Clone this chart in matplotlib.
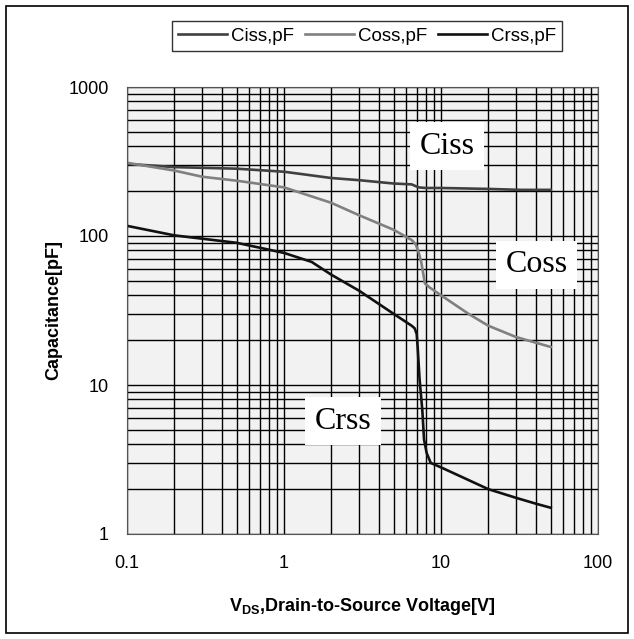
import matplotlib.pyplot as plt
from matplotlib.patches import Rectangle

# data
ciss_v = [0.1, 0.2, 0.5, 1, 2, 3, 5, 6.5, 7.2, 8, 10, 20, 32, 50]
ciss_c = [305, 290, 283, 270, 245, 237, 225, 222, 212, 210, 210, 207, 204, 204]

coss_v = [0.1, 0.2, 0.3, 0.5, 1, 2, 3, 5, 6.5, 6.9, 7.2, 7.5, 7.9, 8.5, 10, 15, 20, 30, 50]
coss_c = [310, 275, 250, 235, 212, 167, 138, 110, 94, 88, 78, 66, 48, 45, 40, 30, 25, 21, 18]

crss_v = [0.1, 0.2, 0.5, 1, 1.5, 2, 3, 5, 6.5, 6.8, 7.0, 7.1, 7.3, 7.6, 7.8, 8.1,
          8.6, 10, 15, 20, 30, 40, 50]
crss_c = [117, 101, 90, 77, 67, 55, 43, 30, 25, 24, 22, 18, 11, 6.8, 4.3, 3.5,
          3.0, 2.8, 2.3, 2.0, 1.75, 1.6, 1.5]

xticks = [0.1, 1, 10, 100]
xticklabels = ["0.1", "1", "10", "100"]
yticks = [1, 10, 100, 1000]
yticklabels = ["1", "10", "100", "1000"]

plt.rcParams['font.family'] = ['Liberation Sans', 'DejaVu Sans']

fig = plt.figure(figsize=(6.34, 6.39), dpi=100)
ax = fig.add_axes([127/634, 1-534/639, (598-127)/634, (534-87)/639])
ax.set_facecolor('#f2f2f2')

ax.plot(ciss_v, ciss_c, color='#404040', lw=1.9, label="Ciss,pF")
ax.plot(coss_v, coss_c, color='#808080', lw=1.9, label="Coss,pF")
ax.plot(crss_v, crss_c, color='#111111', lw=1.9, label="Crss,pF")

ax.set_xscale('log')
ax.set_yscale('log')
ax.set_xlim(0.1, 100)
ax.set_ylim(1, 1000)
ax.set_xticks(xticks)
ax.set_xticklabels(xticklabels)
ax.set_yticks(yticks)
ax.set_yticklabels(yticklabels)
ax.tick_params(which='both', length=0, labelsize=13)
ax.tick_params(axis='x', pad=15)
ax.tick_params(axis='y', pad=13)
ax.grid(True, which='both', color='black', lw=1.0)
ax.set_axisbelow(True)
for s in ax.spines.values():
    s.set_color('#555555')

ax.set_xlabel(r"V$_{\mathregular{DS}}$,Drain-to-Source Voltage[V]", fontsize=13,
              fontweight='bold')
ax.xaxis.set_label_coords(0.5, -0.138)
ax.set_ylabel("Capacitance[pF]", fontsize=13, fontweight='bold')
ax.yaxis.set_label_coords(-0.138, 0.5)

# curve labels in white boxes
for txt, xv, yv in [("Ciss", 10.9, 400), ("Coss", 40.5, 64), ("Crss", 2.38, 5.7)]:
    ax.text(xv, yv, txt, family='Liberation Serif', fontsize=23, ha='center', va='center',
            bbox=dict(facecolor='white', edgecolor='none', pad=7), zorder=5)

leg = fig.legend(loc='center', bbox_to_anchor=(367/634, 1-36/639), ncol=3,
                 fontsize=13.5, frameon=True, fancybox=False, handlelength=2.6,
                 handletextpad=0.2, columnspacing=0.6, borderpad=0.35)
leg.get_frame().set_edgecolor('black')
leg.get_frame().set_linewidth(1.0)

fig.patches.append(Rectangle((6/634, 6/639), 622/634, 627/639, transform=fig.transFigure,
                             fill=False, edgecolor='black', lw=1.2))

fig.savefig("out.png", dpi=100)
